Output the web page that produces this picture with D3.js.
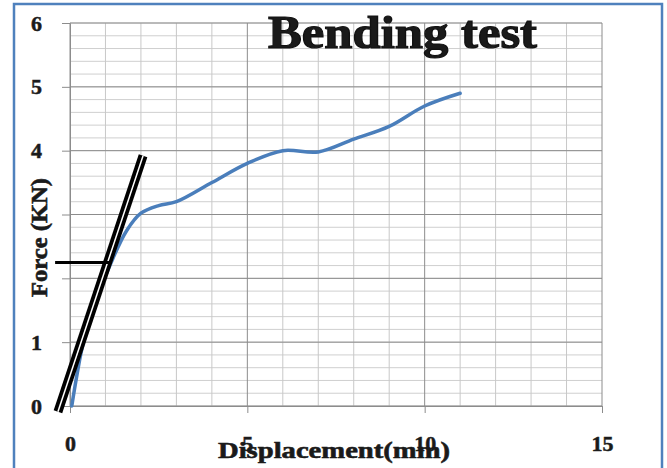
<!DOCTYPE html>
<html>
<head>
<meta charset="utf-8">
<script src="https://cdn.jsdelivr.net/npm/d3@7"></script>
<style>
  body { margin: 0; background: #fff; }
  text { font-family: "Liberation Serif", "Times New Roman", serif; font-weight: bold; fill: #1a1a1a; }
</style>
</head>
<body>
<svg id="chart" width="667" height="468"></svg>
<script>
// curve
var displacement = [0.05, 0.2, 0.38, 0.8, 1.2, 1.6, 2.0, 2.5, 3.0, 4.0, 5.0, 6.0, 7.0, 8.0, 9.0, 10.0, 11.0];
var force =        [0.0, 0.5, 1.0, 1.75, 2.3, 2.75, 3.02, 3.14, 3.2, 3.5, 3.8, 4.0, 3.98, 4.18, 4.38, 4.7, 4.9];
var xTicks = [0, 5, 10, 15];
var yTicks = [0, 1, 2, 3, 4, 5, 6];
var yLabels = ["0", "1", "", "", "4", "5", "6"]; // 2 and 3 are covered in the picture
// drawn annotation lines (data units)
var slopeLine = [[-0.34, -0.09], [2.06, 3.92]];
var yieldLine = [[-0.42, 2.25], [1.18, 2.25]];

var svg = d3.select("#chart");

// outer frame
svg.append("rect")
    .attr("x", 14).attr("y", 4)
    .attr("width", 648).attr("height", 470)
    .attr("fill", "#fff")
    .attr("stroke", "#4f81bd")
    .attr("stroke-width", 2.5);

var x = d3.scaleLinear().domain([0, 15]).range([70, 602]);
var y = d3.scaleLinear().domain([0, 6]).range([406, 23]);

// minor horizontal grid
var minor = d3.range(0, 6.001, 0.2);
svg.append("g").selectAll("line")
    .data(minor)
    .enter().append("line")
    .attr("x1", x(0)).attr("x2", x(15))
    .attr("y1", function (d) { return y(d); })
    .attr("y2", function (d) { return y(d); })
    .attr("stroke", "#cfcfcf").attr("stroke-width", 1);

// vertical grid
svg.append("g").selectAll("line")
    .data(d3.range(0, 16))
    .enter().append("line")
    .attr("x1", function (d) { return x(d); })
    .attr("x2", function (d) { return x(d); })
    .attr("y1", y(0)).attr("y2", y(6))
    .attr("stroke", function (d) { return d % 5 == 0 ? "#8c8c8c" : "#c8c8c8"; })
    .attr("stroke-width", 1);

// major horizontal grid
svg.append("g").selectAll("line")
    .data(yTicks)
    .enter().append("line")
    .attr("x1", x(0)).attr("x2", x(15))
    .attr("y1", function (d) { return y(d); })
    .attr("y2", function (d) { return y(d); })
    .attr("stroke", "#8c8c8c").attr("stroke-width", 1);

// axes
var yAxis = svg.append("g")
    .attr("transform", "translate(" + x(0) + ",0)")
    .call(d3.axisLeft(y).tickValues(yTicks).tickSize(8).tickSizeOuter(0)
        .tickPadding(20).tickFormat(function (d, i) { return yLabels[i]; }));
var xAxis = svg.append("g")
    .attr("transform", "translate(0," + y(0) + ")")
    .call(d3.axisBottom(x).tickValues(xTicks).tickSize(7).tickSizeOuter(0)
        .tickPadding(22).tickFormat(d3.format("d")));
[yAxis, xAxis].forEach(function (a) {
    a.select(".domain").attr("stroke", "#8c8c8c");
    a.selectAll(".tick line").attr("stroke", "#8c8c8c");
    a.selectAll(".tick text")
        .style("font-family", "'Liberation Serif', serif")
        .style("font-weight", "bold")
        .attr("fill", "#222")
        .attr("stroke", "#222").attr("stroke-width", 0.5)
        .attr("font-size", 22);
});

// data curve
var line = d3.line()
    .x(function (d, i) { return x(displacement[i]); })
    .y(function (d) { return y(d); })
    .curve(d3.curveCatmullRom.alpha(0.5));
svg.append("path")
    .datum(force)
    .attr("d", line)
    .attr("fill", "none")
    .attr("stroke", "#4a7ebb")
    .attr("stroke-width", 3.5)
    .attr("stroke-linecap", "round");

// annotation: double black slope line and yield line
var ann = d3.line()
    .x(function (d) { return x(d[0]); })
    .y(function (d) { return y(d[1]); });
svg.append("path").attr("d", ann(slopeLine))
    .attr("stroke", "#000").attr("stroke-width", 9).attr("fill", "none");
svg.append("path").attr("d", ann(slopeLine))
    .attr("stroke", "#fff").attr("stroke-width", 1.5).attr("fill", "none");
svg.append("path").attr("d", ann(yieldLine))
    .attr("stroke", "#000").attr("stroke-width", 3).attr("fill", "none");

// titles
svg.append("text")
    .attr("x", 268).attr("y", 48)
    .attr("font-size", 46)
    .attr("textLength", 269)
    .attr("lengthAdjust", "spacingAndGlyphs")
    .attr("fill", "#111")
    .attr("stroke", "#111").attr("stroke-width", 1.2)
    .text("Bending test");

svg.append("text")
    .attr("x", 218).attr("y", 458)
    .attr("font-size", 23)
    .attr("textLength", 232)
    .attr("lengthAdjust", "spacingAndGlyphs")
    .attr("stroke", "#1a1a1a").attr("stroke-width", 0.6)
    .text("Displacement(mm)");

svg.append("text")
    .attr("transform", "translate(47,297) rotate(-90)")
    .attr("font-size", 23)
    .attr("textLength", 119)
    .attr("lengthAdjust", "spacingAndGlyphs")
    .attr("stroke", "#1a1a1a").attr("stroke-width", 0.6)
    .text("Force (KN)");
</script>
</body>
</html>
